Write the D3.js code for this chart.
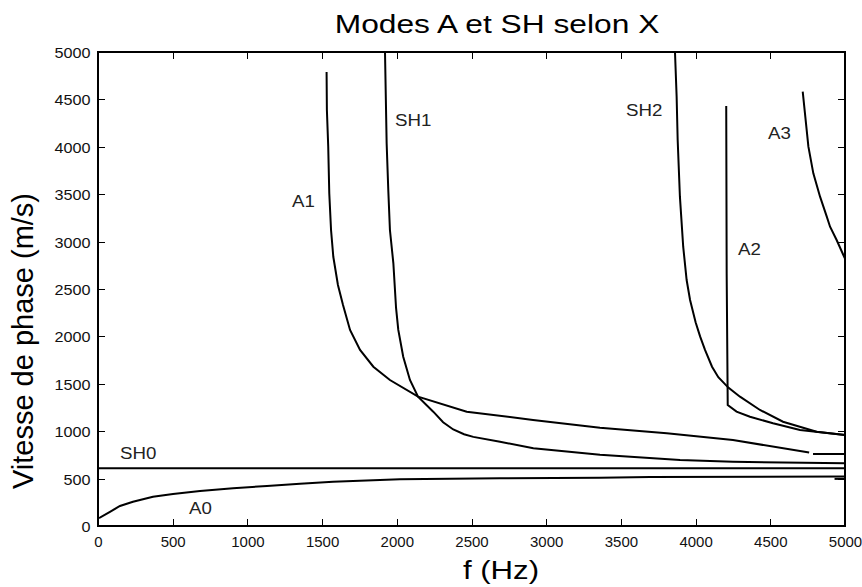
<!DOCTYPE html>
<html>
<head>
<meta charset="utf-8">
<script src="https://cdn.jsdelivr.net/npm/d3@7"></script>
<style>
  body { margin: 0; background: #fff; }
  svg { display: block; font-family: "Liberation Sans", Arial, sans-serif; }
</style>
</head>
<body>
<svg id="chart" width="862" height="587"></svg>
<script>
// values, [f (Hz), phase velocity (m/s)]
const sh0 = [[0, 608], [5000, 608]];
const a0 = [[0, 85], [13, 88], [80, 150], [147, 211], [234, 256], [368, 309], [502, 338], [683, 369],
  [904, 398], [1131, 422], [1352, 445], [1573, 467], [2021, 492], [2690, 503], [3360, 510], [3695, 518], [5000, 522]];
const a0Tail = [[4930, 497], [5000, 497]];
const a1 = [[1530, 4790], [1532, 4390], [1541, 4000], [1548, 3510], [1560, 3120], [1575, 2840], [1606, 2542],
  [1640, 2331], [1687, 2068], [1754, 1857], [1843, 1680], [1954, 1540], [2142, 1364], [2468, 1206],
  [2912, 1118], [3360, 1037], [3807, 978], [4250, 907], [4760, 775]];
const a1Tail = [[4786, 760], [5000, 760], [5000, 1040]];
const sh1 = [[1921, 5000], [1932, 4037], [1943, 3544], [1954, 3122], [1977, 2771], [1995, 2300], [2010, 2068],
  [2043, 1786], [2088, 1540], [2142, 1364], [2244, 1206], [2310, 1095], [2378, 1018], [2450, 968], [2512, 940],
  [2691, 889], [2914, 820], [3360, 752], [3896, 696], [4250, 678], [5000, 661]];
const sh2 = [[3862, 5000], [3873, 4531], [3880, 4072], [3895, 3474], [3917, 2946], [3940, 2595], [3963, 2384],
  [4000, 2150], [4030, 2000], [4063, 1857], [4110, 1680], [4152, 1570], [4219, 1460], [4297, 1364], [4431, 1224],
  [4585, 1100], [4810, 995], [5000, 960]];
const a2 = [[4205, 4430], [4208, 2660], [4215, 1276], [4274, 1206], [4364, 1153], [4518, 1083], [4699, 1013], [5000, 960]];
const a3 = [[4717, 4581], [4755, 4001], [4788, 3720], [4833, 3474], [4878, 3263], [4900, 3157], [4944, 3017],
  [4989, 2859], [5000, 2820], [5000, 2666]];

const curves = [sh0, a0, a0Tail, a1, a1Tail, sh1, sh2, a2, a3];

// curve names and where they sit, in data units
const labelNames = ['SH0', 'A0', 'A1', 'SH1', 'SH2', 'A2', 'A3'];
const labelF = [147, 609, 1299, 1988, 3534, 4284, 4485];
const labelV = [707, 127, 3368, 4223, 4328, 2856, 4079];

const xTicks = d3.range(0, 5001, 500);
const yTicks = d3.range(0, 5001, 500);

const margin = { top: 52, right: 17, bottom: 61, left: 98 };
const svg = d3.select('#chart');
const width = +svg.attr('width') - margin.left - margin.right;
const height = +svg.attr('height') - margin.top - margin.bottom;

const x = d3.scaleLinear().domain([0, 5000]).range([0, width]);
const y = d3.scaleLinear().domain([0, 5000]).range([height, 0]);

const g = svg.append('g').attr('transform', `translate(${margin.left},${margin.top})`);

function styleAxis(sel, sx = 1.08) {
  sel.select('.domain').remove();
  sel.selectAll('line').attr('stroke', '#000').attr('shape-rendering', 'crispEdges');
  sel.selectAll('text')
    .attr('fill', '#111')
    .style('font-size', '15px')
    .attr('transform', `scale(${sx},1)`);
}

g.append('g')
  .attr('transform', `translate(0,${height})`)
  .call(d3.axisBottom(x).tickValues(xTicks).tickSize(-7).tickPadding(10).tickFormat(d3.format('d')))
  .call(styleAxis, 1.0);
g.append('g')
  .call(d3.axisLeft(y).tickValues(yTicks).tickSize(-7).tickPadding(7).tickFormat(d3.format('d')))
  .call(styleAxis)
  .selectAll('text').attr('dy', '0.36em');
g.append('g')
  .call(d3.axisTop(x).tickValues(xTicks).tickSize(-7).tickFormat(''))
  .call(styleAxis);
g.append('g')
  .attr('transform', `translate(${width},0)`)
  .call(d3.axisRight(y).tickValues(yTicks).tickSize(-7).tickFormat(''))
  .call(styleAxis);

g.append('rect')
  .attr('width', width)
  .attr('height', height)
  .attr('fill', 'none')
  .attr('stroke', '#000')
  .attr('stroke-width', 1.2)
  .attr('shape-rendering', 'crispEdges');

const line = d3.line().x(d => x(d[0])).y(d => y(d[1]));

g.selectAll('.curve')
  .data(curves)
  .join('path')
  .attr('class', 'curve')
  .attr('d', line)
  .attr('fill', 'none')
  .attr('stroke', '#000')
  .attr('stroke-width', 2);

g.selectAll('.lbl')
  .data(labelNames)
  .join('text')
  .attr('class', 'lbl')
  .attr('transform', (d, i) => `translate(${x(labelF[i])},${y(labelV[i])}) scale(1.1,1)`)
  .style('font-size', '17px')
  .attr('fill', '#222')
  .text(d => d);

svg.append('text')
  .attr('transform', 'translate(497,33) scale(1.27,1)')
  .attr('text-anchor', 'middle')
  .style('font-size', '25px')
  .text('Modes A et SH selon X');

svg.append('text')
  .attr('transform', 'translate(501,579) scale(1.2,1)')
  .attr('text-anchor', 'middle')
  .style('font-size', '26px')
  .text('f (Hz)');

svg.append('text')
  .attr('transform', 'translate(33,341) rotate(-90)')
  .attr('text-anchor', 'middle')
  .style('font-size', '29px')
  .text('Vitesse de phase (m/s)');
</script>
</body>
</html>
